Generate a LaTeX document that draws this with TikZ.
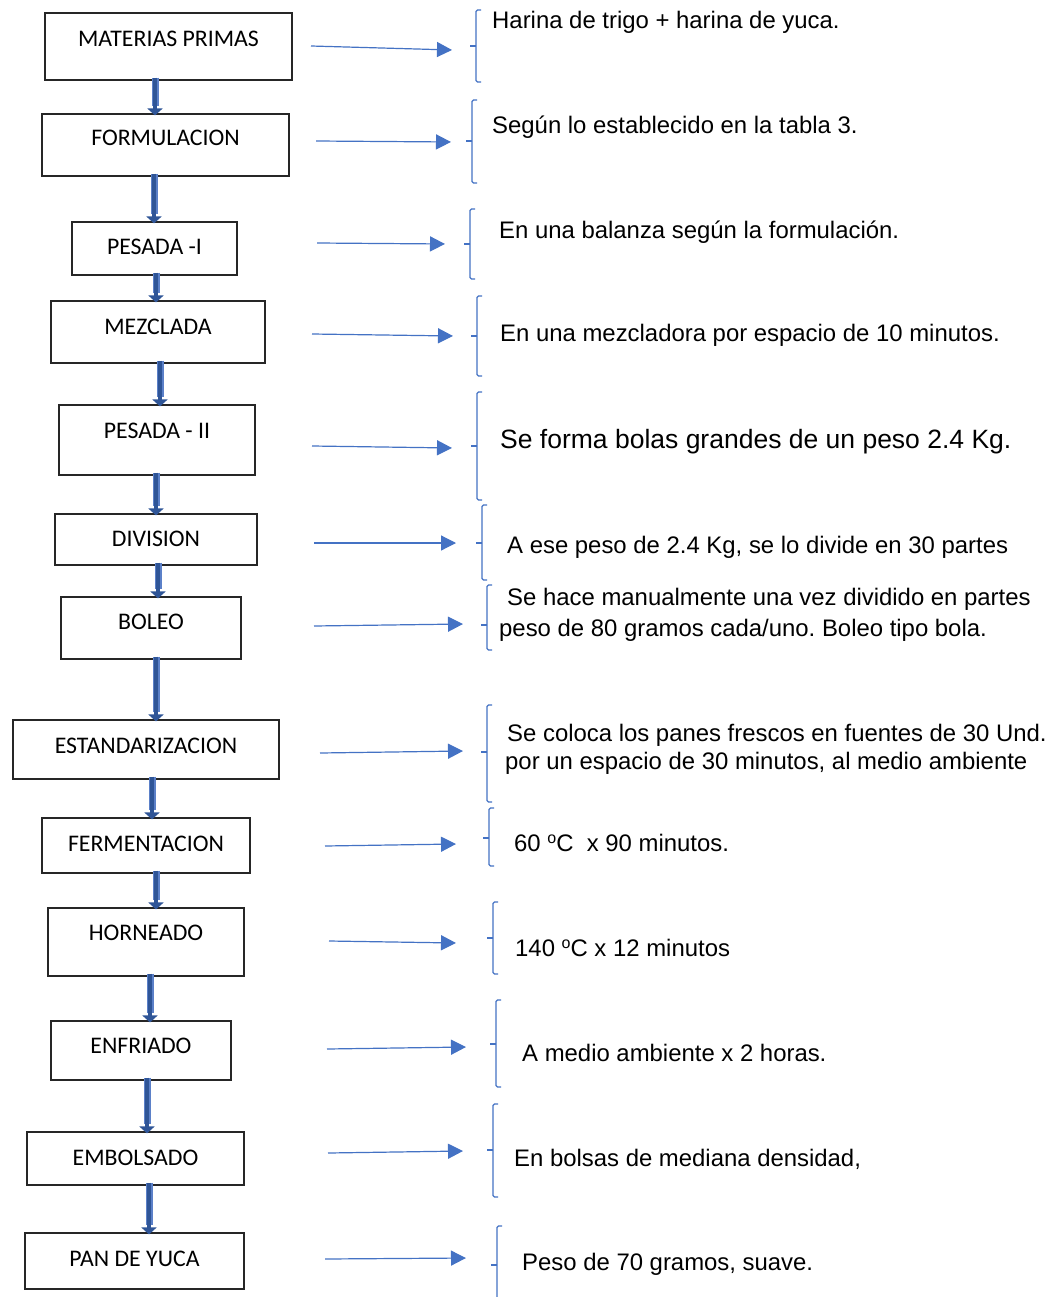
\documentclass[tikz,border=0pt]{standalone}
\usepackage{fontspec}
\setmainfont{Liberation Sans}
\newfontfamily\boxfont{Carlito}
\usetikzlibrary{arrows.meta}
\definecolor{accent}{HTML}{4472C4}
\definecolor{dblue}{HTML}{2F5597}
\definecolor{lblue}{HTML}{5B80C8}
\definecolor{boxline}{HTML}{262626}
\newcommand{\degsign}{\raisebox{7.5pt}{\fontsize{16}{16}\selectfont o}}
\begin{document}
\frenchspacing
\begin{tikzpicture}[x=1pt,y=-1pt,
  procbox/.style={draw=boxline, line width=1.1pt, inner sep=0pt, fill=white},
  boxlabel/.style={anchor=base, inner sep=0pt, font=\boxfont\fontsize{23.8}{26}\selectfont},
  desc/.style={anchor=base west, inner sep=0pt, font=\fontsize{23.9}{28}\selectfont},
  descbig/.style={anchor=base west, inner sep=0pt, font=\fontsize{26.5}{30}\selectfont},
  vedge/.style={draw=lblue, line width=7pt, shorten <=-3pt, shorten >=7pt},
  vflow/.style={draw=dblue, line width=4.5pt, -{Triangle[width=15pt,length=7pt]}, shorten <=-3pt, shorten >=-2pt},
  hflow/.style={draw=accent, line width=1.2pt, -{Triangle[width=15pt,length=15pt]}},
  bracket/.style={draw=accent, line width=1.2pt, rounded corners=1.5pt}
]
\useasboundingbox[fill=white] (0,0) rectangle (1055,1297);

% process boxes
\node[procbox, minimum width=247pt, minimum height=67pt] (m1) at (168.5,46.5) {};
\node[procbox, minimum width=247pt, minimum height=62pt] (m2) at (165.5,145) {};
\node[procbox, minimum width=165pt, minimum height=53pt] (m3) at (154.5,248.5) {};
\node[procbox, minimum width=214pt, minimum height=62pt] (m4) at (158,332) {};
\node[procbox, minimum width=196pt, minimum height=70pt] (m5) at (157,440) {};
\node[procbox, minimum width=202pt, minimum height=51pt] (m6) at (156,539.5) {};
\node[procbox, minimum width=180pt, minimum height=62pt] (m7) at (151,628) {};
\node[procbox, minimum width=266pt, minimum height=59pt] (m8) at (146,749.5) {};
\node[procbox, minimum width=208pt, minimum height=55pt] (m9) at (146,845.5) {};
\node[procbox, minimum width=196pt, minimum height=68pt] (m10) at (146,942) {};
\node[procbox, minimum width=180pt, minimum height=59pt] (m11) at (141,1050.5) {};
\node[procbox, minimum width=217pt, minimum height=53pt] (m12) at (135.5,1158.5) {};
\node[procbox, minimum width=219pt, minimum height=56pt] (m13) at (134.5,1261) {};

% box labels
\node[boxlabel] (t1) at (168.5,46.7) {MATERIAS PRIMAS};
\node[boxlabel] (t2) at (165.5,145.7) {FORMULACION};
\node[boxlabel] (t3) at (154.5,254.7) {PESADA -I};
\node[boxlabel] (t4) at (158,334.7) {MEZCLADA};
\node[boxlabel] (t5) at (157,438.7) {PESADA - II};
\node[boxlabel] (t6) at (156,546.7) {DIVISION};
\node[boxlabel] (t7) at (151,629.7) {BOLEO};
\node[boxlabel] (t8) at (146,753.7) {ESTANDARIZACION};
\node[boxlabel] (t9) at (146,851.7) {FERMENTACION};
\node[boxlabel] (t10) at (146,940.7) {HORNEADO};
\node[boxlabel] (t11) at (141,1053.7) {ENFRIADO};
\node[boxlabel] (t12) at (135.5,1165.7) {EMBOLSADO};
\node[boxlabel] (t13) at (134.5,1266.7) {PAN DE YUCA};

% vertical flow arrows
\foreach \a/\b/\ax in {m1/m2/155, m2/m3/154, m3/m4/156, m4/m5/160, m5/m6/156,
  m6/m7/158, m7/m8/156, m8/m9/152, m9/m10/156, m10/m11/150, m11/m12/147, m12/m13/149} {
  \draw[vedge] (\a.south -| \ax,0) -- (\b.north -| \ax,0);
  \draw[vflow] (\a.south -| \ax,0) -- (\b.north -| \ax,0);
}

% horizontal arrow end points
\coordinate (s1) at (311,46);   \coordinate (e1) at (452,50);
\coordinate (s2) at (316,141);  \coordinate (e2) at (451,142);
\coordinate (s3) at (317,243);  \coordinate (e3) at (445,244);
\coordinate (s4) at (312,334);  \coordinate (e4) at (453,336);
\coordinate (s5) at (312,446);  \coordinate (e5) at (452,448);
\coordinate (s6) at (314,543);  \coordinate (e6) at (456,543);
\coordinate (s7) at (314,626);  \coordinate (e7) at (463,624);
\coordinate (s8) at (320,753);  \coordinate (e8) at (463,751);
\coordinate (s9) at (325,846);  \coordinate (e9) at (456,844);
\coordinate (s10) at (329,941); \coordinate (e10) at (456,943);
\coordinate (s11) at (327,1049); \coordinate (e11) at (466,1047);
\coordinate (s12) at (328,1153); \coordinate (e12) at (463,1151);
\coordinate (s13) at (325,1259); \coordinate (e13) at (466,1258);
\foreach \i in {1,...,13} { \draw[hflow] (s\i) -- (e\i); }

% brackets: x, top, bottom, tick
\foreach \bx/\bt/\bb/\bm in {476/10/82/46, 472/100/183/141, 470/209/279/244,
  477/296/376/336, 477/392/500/446, 482/505/580/543, 487/585/650/625,
  487/705/802/752, 489/808/866/838, 493/902/974/938, 496/1000/1087/1044,
  493/1104/1197/1150, 497/1226/1300/1265} {
  \draw[bracket] (\bx+5,\bt) -- (\bx,\bt) -- (\bx,\bb) -- (\bx+5,\bb);
  \draw[bracket] (\bx,\bm) -- (\bx-6,\bm);
}

% descriptions
\node[desc] (d1) at (492,29) {Harina de trigo + harina de yuca.};
\node[desc] (d2) at (492,134) {Según lo establecido en la tabla 3.};
\node[desc] (d3) at (499,239) {En una balanza según la formulación.};
\node[desc] (d4) at (500,341) {En una mezcladora por espacio de 10 minutos.};
\node[descbig] (d5) at (500,448) {Se forma bolas grandes de un peso 2.4 Kg.};
\node[desc] (d6) at (507,553) {A ese peso de 2.4 Kg, se lo divide en 30 partes};
\node[desc] (d7a) at (507,605) {Se hace manualmente una vez dividido en partes};
\node[desc] (d7b) at (499,636) {peso de 80 gramos cada/uno. Boleo tipo bola.};
\node[desc] (d8a) at (507,741) {Se coloca los panes frescos en fuentes de 30 Und.};
\node[desc] (d8b) at (505,769) {por un espacio de 30 minutos, al medio ambiente};
\node[desc] (d9) at (514,851) {60 \degsign C~ x 90 minutos.};
\node[desc] (d10) at (515,956) {140 \degsign C x 12 minutos};
\node[desc] (d11) at (522,1061) {A medio ambiente x 2 horas.};
\node[desc] (d12) at (514,1166) {En bolsas de mediana densidad,};
\node[desc] (d13) at (522,1270) {Peso de 70 gramos, suave.};
\end{tikzpicture}
\end{document}
